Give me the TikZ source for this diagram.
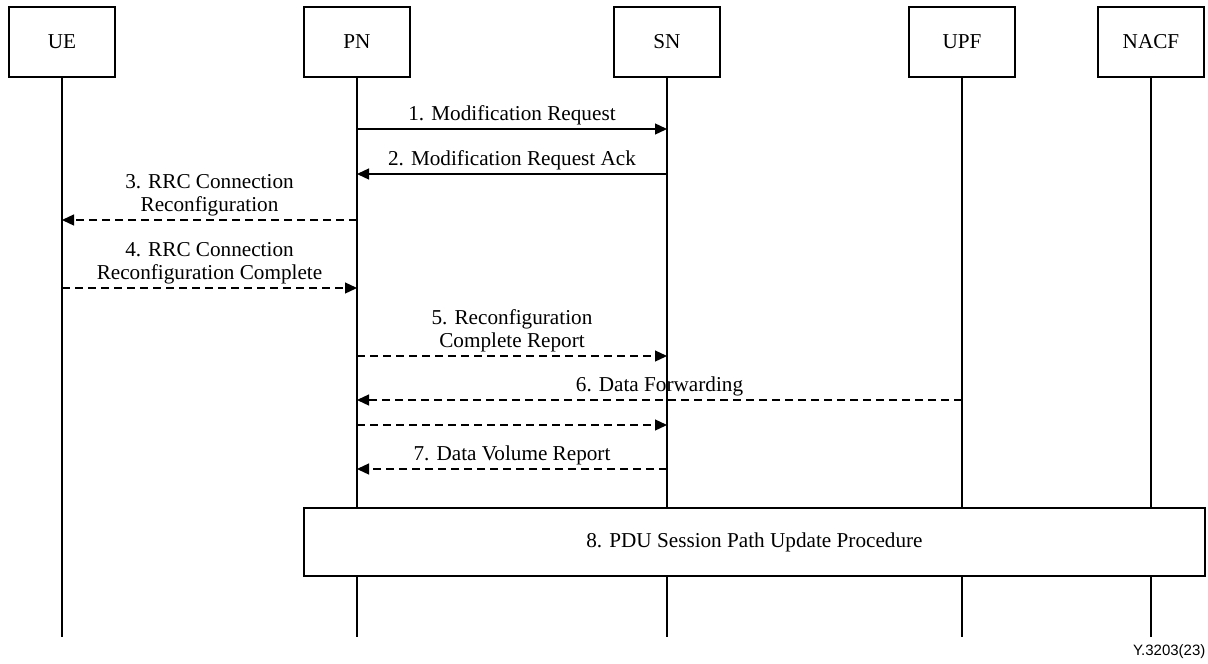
\documentclass[tikz,border=0pt]{standalone}
\usepackage{fontspec}
\setmainfont{Liberation Serif}
\newfontfamily\footfont{Liberation Sans}
\usetikzlibrary{arrows.meta}

\begin{document}
\begin{tikzpicture}[x=1pt, y=-1pt, line width=1.3pt,
  every node/.style={font=\fontsize{21.2}{23}\selectfont},
  actor/.style={draw, fill=white, minimum width=106pt, minimum height=70pt, inner sep=0pt},
  msg/.style={-{Triangle[length=12pt,width=11pt]}},
  msgdash/.style={msg, dash pattern=on 8pt off 5pt},
  lbl/.style={anchor=south, align=center, inner sep=0pt, yshift=3.5pt},
  procbox/.style={draw, fill=white, minimum width=901pt, minimum height=68pt, inner sep=0pt}
]
\useasboundingbox (0,0) rectangle (1208,664);

% participants
\node[actor] (ue)   at (62,42)   {UE};
\node[actor] (pn)   at (357,42)  {PN};
\node[actor] (sn)   at (667,42)  {SN};
\node[actor] (upf)  at (962,42)  {UPF};
\node[actor] (nacf) at (1151,42) {NACF};

% lifeline ends
\coordinate (ue-end)   at (ue.center |- 0,637);
\coordinate (pn-end)   at (pn.center |- 0,637);
\coordinate (sn-end)   at (sn.center |- 0,637);
\coordinate (upf-end)  at (upf.center |- 0,637);
\coordinate (nacf-end) at (nacf.center |- 0,637);

\foreach \p in {ue,pn,sn,upf,nacf}
  \draw (\p.south) -- (\p-end);

% message anchor points on the lifelines
\coordinate (pn1) at (pn.center |- 0,129);  \coordinate (sn1) at (sn.center |- 0,129);
\coordinate (pn2) at (pn.center |- 0,174);  \coordinate (sn2) at (sn.center |- 0,174);
\coordinate (pn3) at (pn.center |- 0,220);  \coordinate (ue3) at (ue.center |- 0,220);
\coordinate (ue4) at (ue.center |- 0,288);  \coordinate (pn4) at (pn.center |- 0,288);
\coordinate (pn5) at (pn.center |- 0,356);  \coordinate (sn5) at (sn.center |- 0,356);
\coordinate (upf6) at (upf.center |- 0,400); \coordinate (pn6) at (pn.center |- 0,400);
\coordinate (pn6b) at (pn.center |- 0,425); \coordinate (sn6b) at (sn.center |- 0,425);
\coordinate (sn7) at (sn.center |- 0,469);  \coordinate (pn7) at (pn.center |- 0,469);

% messages
\draw[msg] (pn1) -- node[lbl] {1. Modification Request} (sn1);
\draw[msg] (sn2) -- node[lbl] {2. Modification Request Ack} (pn2);
\draw[msgdash] (pn3) -- node[lbl] {3. RRC Connection\\Reconfiguration} (ue3);
\draw[msgdash] (ue4) -- node[lbl] {4. RRC Connection\\Reconfiguration Complete} (pn4);
\draw[msgdash] (pn5) -- node[lbl] {5. Reconfiguration\\Complete Report} (sn5);
\draw[msgdash] (upf6) -- node[lbl] {6. Data Forwarding} (pn6);
\draw[msgdash] (pn6b) -- (sn6b);
\draw[msgdash] (sn7) -- node[lbl] {7. Data Volume Report} (pn7);

% joint procedure
\node[procbox] (pdu) at (754.5,542) {8. PDU Session Path Update Procedure};

% figure reference
\node[anchor=east, inner sep=0pt, font=\footfont\fontsize{15}{18}\selectfont] (figref) at (1206,652) {Y.3203(23)};
\end{tikzpicture}
\end{document}
